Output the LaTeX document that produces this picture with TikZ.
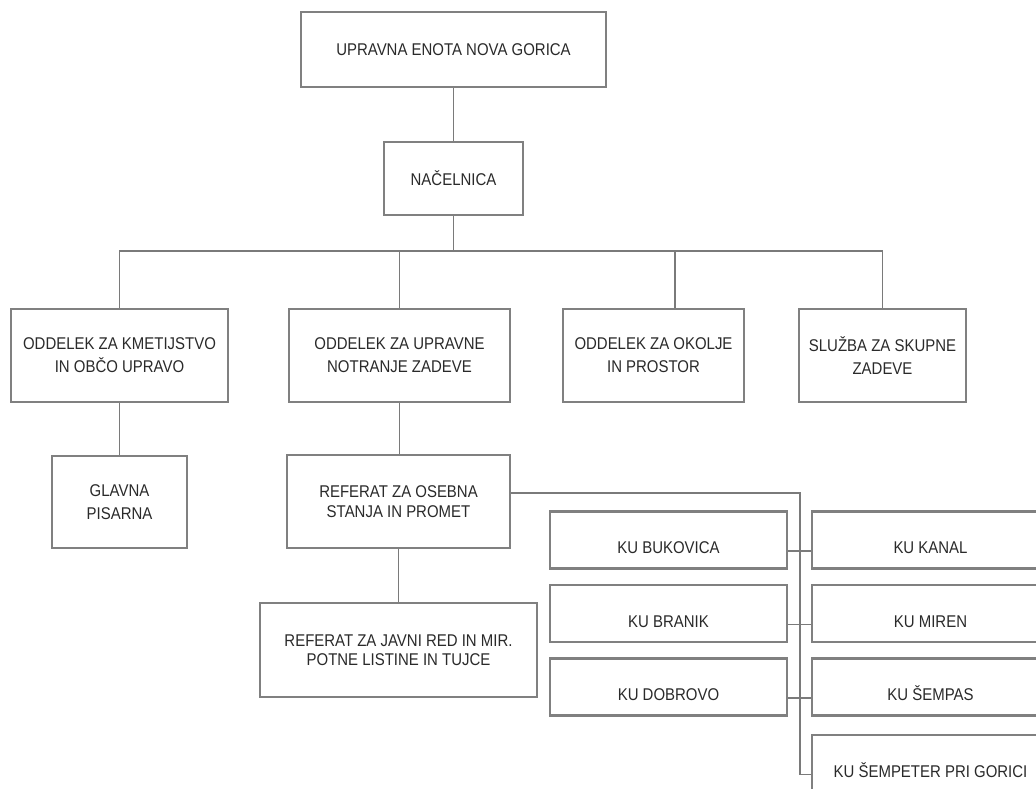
\documentclass[tikz,border=0pt]{standalone}
\usepackage{fontspec}
\setmainfont[FakeStretch=0.88]{Liberation Sans}
\usetikzlibrary{calc}
\definecolor{boxgray}{HTML}{808080}
\definecolor{linegray}{HTML}{7A7A7A}
\definecolor{txtgray}{HTML}{2A2A2A}
\begin{document}
\begin{tikzpicture}[x=1pt,y=-1pt,
  box/.style={draw=boxgray, line width=2.4pt, fill=white, text=txtgray,
    font=\fontsize{17}{23}\selectfont, align=center, inner sep=0pt},
  refbox/.style={box, font=\fontsize{17}{19.5}\selectfont},
  kubox/.style={draw=boxgray, line width=2.4pt, fill=white, text=txtgray,
    font=\fontsize{17}{20}\selectfont, inner xsep=0pt, inner ysep=0pt,
    text height=42.2pt, text depth=14.8pt, minimum width=237pt},
  conn/.style={draw=linegray, line width=1.8pt}]
\fill[white] (0,0) rectangle (1036,789);
\useasboundingbox (0,0) rectangle (1036,789);
\clip (0,0) rectangle (1036,789);

% nodes
\node[box, minimum width=305pt, minimum height=75pt] (top) at (453.5,49.5) {UPRAVNA ENOTA NOVA GORICA};
\node[box, minimum width=139pt, minimum height=73pt] (nac) at (453.5,178.5) {NAČELNICA};

\node[box, minimum width=217pt, minimum height=93pt] (d1) at (119.5,355.5) {ODDELEK ZA KMETIJSTVO\\IN OBČO UPRAVO};
\node[box, minimum width=221pt, minimum height=93pt] (d2) at (399.5,355.5) {ODDELEK ZA UPRAVNE\\NOTRANJE ZADEVE};
\node[box, minimum width=181pt, minimum height=93pt] (d3) at (653.5,355.5) {ODDELEK ZA OKOLJE\\IN PROSTOR};
\node[box, minimum width=167pt, minimum height=93pt] (d4) at (882.5,355.5) {SLUŽBA ZA SKUPNE\\ZADEVE};

\node[box, minimum width=135pt, minimum height=92pt] (glav) at (119.5,502) {GLAVNA\\PISARNA};
\node[refbox, minimum width=223pt, minimum height=93pt] (ros) at (398.5,501.5) {REFERAT ZA OSEBNA\\STANJA IN PROMET};
\node[refbox, minimum width=277pt, minimum height=94pt] (jav) at (398.5,650) {REFERAT ZA JAVNI RED IN MIR.\\POTNE LISTINE IN TUJCE};

\node[kubox] (l1) at (668.5,540) {KU BUKOVICA};
\node[kubox] (l2) at (668.5,613.5) {KU BRANIK};
\node[kubox] (l3) at (668.5,687) {KU DOBROVO};
\node[kubox] (r1) at (930.5,540) {KU KANAL};
\node[kubox] (r2) at (930.5,613.5) {KU MIREN};
\node[kubox] (r3) at (930.5,687) {KU ŠEMPAS};
\node[kubox] (r4) at (930.5,763.5) {KU ŠEMPETER PRI GORICI};

% connectors
\coordinate (bus) at (0,251);
\coordinate (trunk) at (800,0);
\coordinate (d3in) at ($(d3.north)+(21.5,0)$);
\draw[conn] (top) -- (nac);
\draw[conn] (nac.south) -- (nac.south |- bus);
\draw[conn] (d1.north) |- (d4.north |- bus) -- (d4.north);
\draw[conn] (d2.north |- bus) -- (d2.north);
\draw[conn] (d3in |- bus) -- (d3in);
\draw[conn] (d1) -- (glav);
\draw[conn] (d2.south) -- (d2.south |- ros.north);
\draw[conn] (ros) -- (jav);
\draw[conn] ([yshift=8.5pt]ros.east) -| (trunk |- r4.mid west) -- (r4.mid west);
\draw[conn] (l1.mid east) -- (r1.mid west);
\draw[conn] (l2.mid east) -- (r2.mid west);
\draw[conn] (l3.mid east) -- (r3.mid west);
\end{tikzpicture}
\end{document}
